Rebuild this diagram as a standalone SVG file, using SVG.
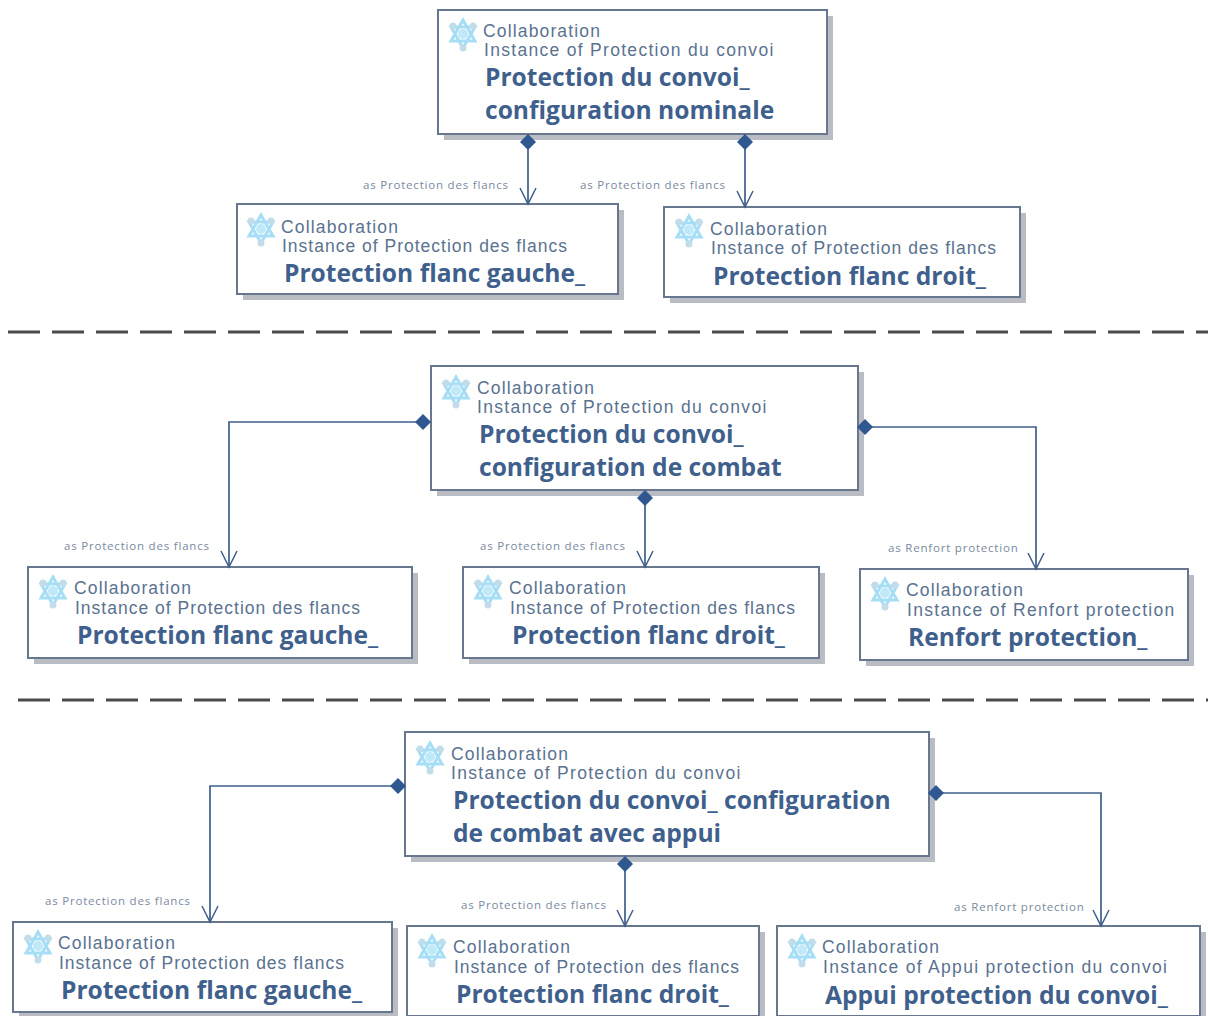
<svg xmlns="http://www.w3.org/2000/svg" width="1208" height="1016" viewBox="0 0 1208 1016">
<style>
text{font-family:"Open Sans","Noto Sans","Liberation Sans",sans-serif}
.box{fill:#fff;stroke:#66778f;stroke-width:2}
.sh{fill:#b9bcc2}
.t1{font-size:17.5px;fill:#5a7290;font-family:"Liberation Sans",sans-serif;letter-spacing:1.15px}
.t2{font-size:17.5px;fill:#5a7290;font-family:"Liberation Sans",sans-serif;letter-spacing:1px}
.w{letter-spacing:1.3px}
.t3{font-size:24.6px;font-weight:700;fill:#3f5f8c}
.lb{font-size:11.5px;fill:#7a8a9f;letter-spacing:.8px}
.c{fill:none;stroke:#3f5f8c;stroke-width:1.7}
.d{fill:#2f5790}
.a{fill:none;stroke:#3f5f8c;stroke-width:1.5}
.sep{stroke:#4a4a4a;stroke-width:3;stroke-dasharray:32 12;fill:none}
.ic{fill:none;stroke:#a5def5;stroke-width:3}
</style>
<defs>
<g id="icon">
<path class="ic" d="M3 8L27 8L15 29ZM3 22L27 22L15 1Z"/>
<circle cx="15" cy="15" r="5" fill="#bfe8f8"/>
<circle cx="5" cy="7" r="3.5" fill="#c3dcea"/>
<circle cx="25" cy="7" r="3.5" fill="#c3dcea"/>
<circle cx="15" cy="29" r="3.5" fill="#c3dcea"/>
</g>
</defs>
<rect width="1208" height="1016" fill="#fff"/>
<path class="sep" d="M8 332H1208"/>
<path class="sep" d="M18 700H1208"/>
<g id="n-a1"><rect class="sh" x="444" y="16" width="389" height="124"/><rect class="box" x="438" y="10" width="389" height="124"/><use href="#icon" x="448" y="19"/><text class="t1" x="483" y="37">Collaboration</text><text class="t2 w" x="484" y="56">Instance of Protection du convoi</text><text class="t3" x="485" y="86">Protection du convoi_</text><text class="t3" x="485" y="119">configuration nominale</text></g>
<g id="n-a2"><rect class="sh" x="243" y="210" width="381" height="90"/><rect class="box" x="237" y="204" width="381" height="90"/><use href="#icon" x="246" y="214"/><text class="t1" x="281" y="233">Collaboration</text><text class="t2" x="282" y="252">Instance of Protection des flancs</text><text class="t3" x="284" y="282">Protection flanc gauche_</text></g>
<g id="n-a3"><rect class="sh" x="670" y="213" width="356" height="90"/><rect class="box" x="664" y="207" width="356" height="90"/><use href="#icon" x="674" y="215"/><text class="t1" x="710" y="235">Collaboration</text><text class="t2" x="711" y="254">Instance of Protection des flancs</text><text class="t3" x="713" y="285">Protection flanc droit_</text></g>
<g id="n-b1"><rect class="sh" x="437" y="372" width="427" height="124"/><rect class="box" x="431" y="366" width="427" height="124"/><use href="#icon" x="441" y="376"/><text class="t1" x="477" y="394">Collaboration</text><text class="t2 w" x="477" y="413">Instance of Protection du convoi</text><text class="t3" x="479" y="443">Protection du convoi_</text><text class="t3" x="479" y="476">configuration de combat</text></g>
<g id="n-b2"><rect class="sh" x="34" y="573" width="384" height="91"/><rect class="box" x="28" y="567" width="384" height="91"/><use href="#icon" x="38" y="576"/><text class="t1" x="74" y="594">Collaboration</text><text class="t2" x="75" y="614">Instance of Protection des flancs</text><text class="t3" x="77" y="644">Protection flanc gauche_</text></g>
<g id="n-b3"><rect class="sh" x="469" y="573" width="356" height="91"/><rect class="box" x="463" y="567" width="356" height="91"/><use href="#icon" x="473" y="576"/><text class="t1" x="509" y="594">Collaboration</text><text class="t2" x="510" y="614">Instance of Protection des flancs</text><text class="t3" x="512" y="644">Protection flanc droit_</text></g>
<g id="n-b4"><rect class="sh" x="866" y="575" width="328" height="91"/><rect class="box" x="860" y="569" width="328" height="91"/><use href="#icon" x="870" y="578"/><text class="t1" x="906" y="596">Collaboration</text><text class="t2 w" x="907" y="616">Instance of Renfort protection</text><text class="t3" x="908" y="646">Renfort protection_</text></g>
<g id="n-c1"><rect class="sh" x="411" y="738" width="524" height="124"/><rect class="box" x="405" y="732" width="524" height="124"/><use href="#icon" x="415" y="742"/><text class="t1" x="451" y="760">Collaboration</text><text class="t2 w" x="451" y="779">Instance of Protection du convoi</text><text class="t3" x="453" y="809">Protection du convoi_ configuration</text><text class="t3" x="453" y="842">de combat avec appui</text></g>
<g id="n-c2"><rect class="sh" x="19" y="928" width="379" height="90"/><rect class="box" x="13" y="922" width="379" height="90"/><use href="#icon" x="23" y="931"/><text class="t1" x="58" y="949">Collaboration</text><text class="t2" x="59" y="969">Instance of Protection des flancs</text><text class="t3" x="61" y="999">Protection flanc gauche_</text></g>
<g id="n-c3"><rect class="sh" x="413" y="932" width="352" height="90"/><rect class="box" x="407" y="926" width="352" height="90"/><use href="#icon" x="417" y="935"/><text class="t1" x="453" y="953">Collaboration</text><text class="t2" x="454" y="973">Instance of Protection des flancs</text><text class="t3" x="456" y="1003">Protection flanc droit_</text></g>
<g id="n-c4"><rect class="sh" x="783" y="932" width="423" height="90"/><rect class="box" x="777" y="926" width="423" height="90"/><use href="#icon" x="787" y="935"/><text class="t1" x="822" y="953">Collaboration</text><text class="t2 w" x="823" y="973">Instance of Appui protection du convoi</text><text class="t3" x="825" y="1004">Appui protection du convoi_</text></g>
<g id="connectors">
<path class="c" d="M528 141V204"/><path class="a" d="M520 188L528 204L536 188"/><path class="d" d="M528 134L536 142L528 150L520 142Z"/>
<path class="c" d="M745 141V207"/><path class="a" d="M737 191L745 207L753 191"/><path class="d" d="M745 134L753 142L745 150L737 142Z"/>
<path class="c" d="M423 422H229V567"/><path class="a" d="M221 551L229 567L237 551"/><path class="d" d="M423 414L431 422L423 430L415 422Z"/>
<path class="c" d="M865 427H1036V569"/><path class="a" d="M1028 553L1036 569L1044 553"/><path class="d" d="M865 419L873 427L865 435L857 427Z"/>
<path class="c" d="M645 497V567"/><path class="a" d="M637 551L645 567L653 551"/><path class="d" d="M645 490L653 498L645 506L637 498Z"/>
<path class="c" d="M398 786H210V922"/><path class="a" d="M202 906L210 922L218 906"/><path class="d" d="M398 778L406 786L398 794L390 786Z"/>
<path class="c" d="M936 793H1101V926"/><path class="a" d="M1093 910L1101 926L1109 910"/><path class="d" d="M936 785L944 793L936 801L928 793Z"/>
<path class="c" d="M625 864V926"/><path class="a" d="M617 910L625 926L633 910"/><path class="d" d="M625 856L633 864L625 872L617 864Z"/>
<text class="lb" x="363" y="189">as Protection des flancs</text>
<text class="lb" x="580" y="189">as Protection des flancs</text>
<text class="lb" x="64" y="550">as Protection des flancs</text>
<text class="lb" x="480" y="550">as Protection des flancs</text>
<text class="lb" x="888" y="552">as Renfort protection</text>
<text class="lb" x="45" y="905">as Protection des flancs</text>
<text class="lb" x="461" y="909">as Protection des flancs</text>
<text class="lb" x="954" y="911">as Renfort protection</text>
</g>
</svg>
